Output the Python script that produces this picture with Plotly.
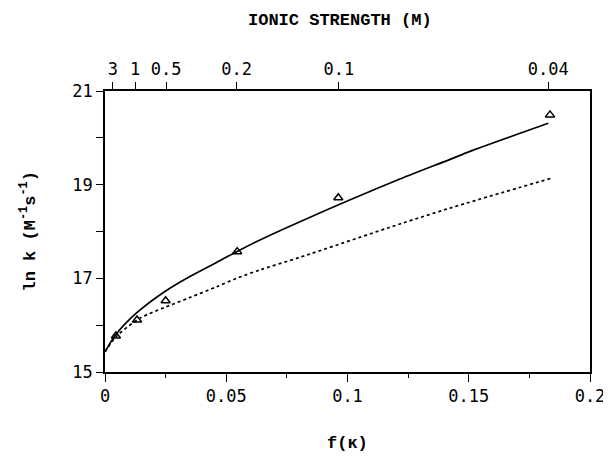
import plotly.graph_objects as go

# measured points (triangles)
f_points = [0.0045, 0.0132, 0.0250, 0.0545, 0.0962, 0.1835]
lnk_points = [15.77, 16.11, 16.52, 17.57, 18.72, 20.49]

# solid fitted curve
f_solid = [0.0, 0.0045, 0.013, 0.0247, 0.035, 0.046, 0.0543, 0.0639, 0.0804, 0.1216, 0.1423, 0.1505, 0.1828]
lnk_solid = [15.43, 15.80, 16.26, 16.72, 17.04, 17.34, 17.57, 17.82, 18.21, 19.12, 19.54, 19.71, 20.31]

# dotted curve
f_dot = [0.0, 0.0045, 0.0144, 0.0247, 0.035, 0.046, 0.0543, 0.0639, 0.0804, 0.1216, 0.1423, 0.1842]
lnk_dot = [15.43, 15.75, 16.15, 16.38, 16.59, 16.82, 17.00, 17.18, 17.45, 18.16, 18.50, 19.14]

# top axis (ionic strength) tick positions in f(kappa) units and labels
top_tick_pos = [0.0032, 0.0124, 0.0252, 0.0543, 0.0964, 0.1828]
top_tick_text = ["3", "1", "0.5", "0.2", "0.1", "0.04"]

x_tick_vals = [0, 0.05, 0.1, 0.15, 0.2]
x_tick_text = ["0", "0.05", "0.1", "0.15", "0.2"]
y_tick_vals = [15, 17, 19, 21]

tick_font = dict(family="DejaVu Sans Mono", size=17, color="black")
title_font = dict(family="Liberation Mono", size=17, color="black")

fig = go.Figure()
fig.add_trace(go.Scatter(x=f_solid, y=lnk_solid, mode="lines",
                         line=dict(color="black", width=1.7, shape="spline", smoothing=0.8),
                         showlegend=False))
fig.add_trace(go.Scatter(x=f_dot, y=lnk_dot, mode="lines",
                         line=dict(color="black", width=1.7, dash="3px,3px", shape="spline", smoothing=0.8),
                         showlegend=False))
fig.add_trace(go.Scatter(x=f_points, y=lnk_points, mode="markers",
                         marker=dict(symbol="triangle-up-open", size=8, color="black", line=dict(width=1.5)),
                         showlegend=False))
# invisible trace on top axis
fig.add_trace(go.Scatter(x=[0, 0.2], y=[15, 15], xaxis="x2", mode="markers",
                         marker=dict(opacity=0), showlegend=False, hoverinfo="skip"))

fig.update_layout(
    width=603, height=451,
    margin=dict(l=97, r=21, t=83, b=87),
    plot_bgcolor="white", paper_bgcolor="white",
    xaxis=dict(range=[0, 0.2], tickvals=x_tick_vals, ticktext=x_tick_text, ticks="outside", ticklen=8,
               tickwidth=1.3, tickcolor="black", showline=True, linecolor="black", linewidth=1.5,
               showgrid=False, zeroline=False, tickfont=tick_font, automargin=False,
               minor=dict(dtick=0.025, tick0=0, ticks="outside", ticklen=4, tickcolor="black", tickwidth=1.2)),
    xaxis2=dict(range=[0, 0.2], overlaying="x", side="top", tickvals=top_tick_pos, ticktext=top_tick_text,
                ticks="outside", ticklen=7, tickwidth=1.3, tickcolor="black", showline=True,
                linecolor="black", linewidth=1.5, showgrid=False, zeroline=False, tickfont=tick_font,
                automargin=False),
    yaxis=dict(range=[15, 21], tickvals=y_tick_vals, ticks="outside", ticklen=7, tickwidth=1.3,
               tickcolor="black", showline=True, linecolor="black", linewidth=1.5, mirror=True,
               showgrid=False, zeroline=False, tickfont=tick_font, automargin=False,
               minor=dict(dtick=1, tick0=15, ticks="outside", ticklen=7, tickcolor="black", tickwidth=1.2)),
    annotations=[
        dict(text="<b>IONIC STRENGTH (M)</b>", xref="paper", yref="paper", x=0.485, y=1, yshift=71,
             showarrow=False, font=title_font, xanchor="center", yanchor="middle"),
        dict(text="<b>f(κ)</b>", xref="paper", yref="paper", x=0.5, y=0, yshift=-71,
             showarrow=False, font=title_font, xanchor="center", yanchor="middle"),
        dict(text="<b>ln k (M<sup>-1</sup>s<sup>-1</sup>)</b>", xref="paper", yref="paper", x=0, xshift=-77,
             y=0.5, textangle=-90, showarrow=False, font=title_font, xanchor="center", yanchor="middle"),
    ],
)

fig.write_html("out.html")
